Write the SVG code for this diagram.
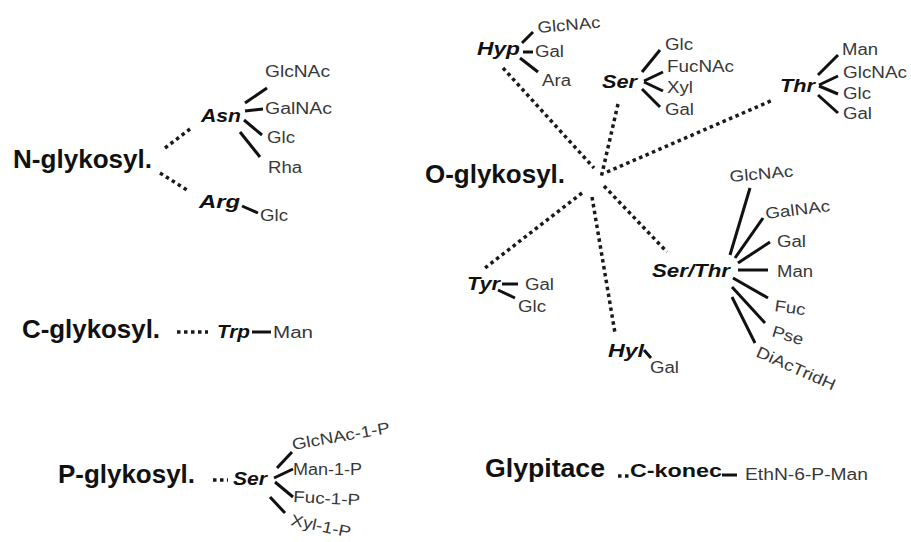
<svg xmlns="http://www.w3.org/2000/svg" width="911" height="542" viewBox="0 0 911 542">
<style>
.big{font-family:"Liberation Sans",Arial,sans-serif;font-weight:bold;font-size:25px;fill:#111}
.aa{font-family:"Liberation Sans",Arial,sans-serif;font-weight:bold;font-style:italic;font-size:18px;fill:#111}
.mid{font-family:"Liberation Sans",Arial,sans-serif;font-weight:bold;font-size:18px;fill:#111}
.sub{font-family:"Liberation Sans",Arial,sans-serif;font-size:16px;fill:#383838}
.dot{stroke:#1a1a1a;stroke-width:3.5;stroke-dasharray:3.5 3.5;fill:none}
.bond{stroke:#111;stroke-width:3;fill:none}
</style>
<rect width="911" height="542" fill="#fff"/>
<g id="connectors">
  <line class="dot" x1="165" y1="148" x2="190" y2="129"/>
  <line class="dot" x1="160" y1="173" x2="187" y2="190"/>
  <line class="dot" x1="503" y1="68" x2="594" y2="168"/>
  <line class="dot" x1="618" y1="104" x2="601" y2="178"/>
  <line class="dot" x1="607" y1="172" x2="773" y2="100"/>
  <line class="dot" x1="604" y1="186" x2="667" y2="252"/>
  <line class="dot" x1="582" y1="193" x2="485" y2="268"/>
  <line class="dot" x1="592" y1="197" x2="615" y2="333"/>
  <line class="dot" x1="177" y1="332" x2="208" y2="332"/>
  <line class="dot" x1="213" y1="480" x2="228" y2="480"/>
  <line class="dot" x1="618" y1="476" x2="629" y2="476"/>
</g>
<g id="n-glyk"><text class="big" x="13" y="168" textLength="139" lengthAdjust="spacingAndGlyphs">N-glykosyl.</text></g>
<g id="asn">
  <text class="aa" x="201" y="122" textLength="40" lengthAdjust="spacingAndGlyphs">Asn</text>
  <line class="bond" x1="245" y1="103" x2="267" y2="88"/>
  <line class="bond" x1="245" y1="111" x2="263" y2="109"/>
  <line class="bond" x1="244" y1="120" x2="262" y2="135"/>
  <line class="bond" x1="240" y1="132" x2="260" y2="157"/>
  <text class="sub" x="265" y="77" textLength="65" lengthAdjust="spacingAndGlyphs">GlcNAc</text>
  <text class="sub" x="265" y="114" textLength="67" lengthAdjust="spacingAndGlyphs">GalNAc</text>
  <text class="sub" x="267" y="143" textLength="28" lengthAdjust="spacingAndGlyphs">Glc</text>
  <text class="sub" x="268" y="173" textLength="34" lengthAdjust="spacingAndGlyphs">Rha</text>
</g>
<g id="arg">
  <text class="aa" x="199" y="208" textLength="41" lengthAdjust="spacingAndGlyphs">Arg</text>
  <line class="bond" x1="242" y1="206" x2="258" y2="213"/>
  <text class="sub" x="260" y="221" textLength="28" lengthAdjust="spacingAndGlyphs">Glc</text>
</g>
<g id="o-glyk"><text class="big" x="425" y="183" textLength="140" lengthAdjust="spacingAndGlyphs">O-glykosyl.</text></g>
<g id="hyp">
  <text class="aa" x="477" y="55" textLength="43" lengthAdjust="spacingAndGlyphs">Hyp</text>
  <line class="bond" x1="522" y1="43" x2="533" y2="32"/>
  <line class="bond" x1="523" y1="52" x2="533" y2="52"/>
  <line class="bond" x1="520" y1="58" x2="538" y2="72"/>
  <text class="sub" x="538" y="33" textLength="63" lengthAdjust="spacingAndGlyphs" transform="rotate(-5 538 33)">GlcNAc</text>
  <text class="sub" x="535" y="57" textLength="29" lengthAdjust="spacingAndGlyphs">Gal</text>
  <text class="sub" x="542" y="86" textLength="29" lengthAdjust="spacingAndGlyphs">Ara</text>
</g>
<g id="ser-o">
  <text class="aa" x="602" y="88" textLength="35" lengthAdjust="spacingAndGlyphs">Ser</text>
  <line class="bond" x1="642" y1="72" x2="660" y2="50"/>
  <line class="bond" x1="644" y1="81" x2="663" y2="72"/>
  <line class="bond" x1="644" y1="82" x2="663" y2="91"/>
  <line class="bond" x1="642" y1="89" x2="660" y2="107"/>
  <text class="sub" x="665" y="50" textLength="28" lengthAdjust="spacingAndGlyphs">Glc</text>
  <text class="sub" x="667" y="72" textLength="67" lengthAdjust="spacingAndGlyphs">FucNAc</text>
  <text class="sub" x="667" y="93" textLength="26" lengthAdjust="spacingAndGlyphs">Xyl</text>
  <text class="sub" x="665" y="115" textLength="29" lengthAdjust="spacingAndGlyphs">Gal</text>
</g>
<g id="thr">
  <text class="aa" x="780" y="92" textLength="35" lengthAdjust="spacingAndGlyphs">Thr</text>
  <line class="bond" x1="818" y1="75" x2="838" y2="55"/>
  <line class="bond" x1="819" y1="85" x2="838" y2="76"/>
  <line class="bond" x1="819" y1="86" x2="838" y2="94"/>
  <line class="bond" x1="818" y1="95" x2="838" y2="113"/>
  <text class="sub" x="842" y="55" textLength="36" lengthAdjust="spacingAndGlyphs">Man</text>
  <text class="sub" x="843" y="78" textLength="64" lengthAdjust="spacingAndGlyphs">GlcNAc</text>
  <text class="sub" x="843" y="99" textLength="28" lengthAdjust="spacingAndGlyphs">Glc</text>
  <text class="sub" x="843" y="119" textLength="29" lengthAdjust="spacingAndGlyphs">Gal</text>
</g>
<g id="serthr">
  <text class="aa" x="652" y="277" textLength="78" lengthAdjust="spacingAndGlyphs">Ser/Thr</text>
  <line class="bond" x1="730" y1="255" x2="750" y2="188"/>
  <line class="bond" x1="735" y1="258" x2="763" y2="218"/>
  <line class="bond" x1="738" y1="263" x2="770" y2="242"/>
  <line class="bond" x1="738" y1="270" x2="768" y2="270"/>
  <line class="bond" x1="733" y1="278" x2="768" y2="298"/>
  <line class="bond" x1="732" y1="287" x2="765" y2="323"/>
  <line class="bond" x1="732" y1="297" x2="755" y2="343"/>
  <text class="sub" x="730" y="182" textLength="64" lengthAdjust="spacingAndGlyphs" transform="rotate(-5 730 182)">GlcNAc</text>
  <text class="sub" x="766" y="219" textLength="65" lengthAdjust="spacingAndGlyphs" transform="rotate(-7 766 219)">GalNAc</text>
  <text class="sub" x="777" y="247" textLength="29" lengthAdjust="spacingAndGlyphs">Gal</text>
  <text class="sub" x="777" y="277" textLength="36" lengthAdjust="spacingAndGlyphs">Man</text>
  <text class="sub" x="774" y="311" textLength="31" lengthAdjust="spacingAndGlyphs" transform="rotate(8 774 311)">Fuc</text>
  <text class="sub" x="771" y="336" textLength="32" lengthAdjust="spacingAndGlyphs" transform="rotate(17 771 336)">Pse</text>
  <text class="sub" x="755" y="356" textLength="85" lengthAdjust="spacingAndGlyphs" transform="rotate(24 755 356)">DiAcTridH</text>
</g>
<g id="tyr">
  <text class="aa" x="467" y="290" textLength="33" lengthAdjust="spacingAndGlyphs">Tyr</text>
  <line class="bond" x1="502" y1="284" x2="518" y2="284"/>
  <line class="bond" x1="498" y1="290" x2="515" y2="298"/>
  <text class="sub" x="525" y="290" textLength="29" lengthAdjust="spacingAndGlyphs">Gal</text>
  <text class="sub" x="518" y="312" textLength="28" lengthAdjust="spacingAndGlyphs">Glc</text>
</g>
<g id="hyl">
  <text class="aa" x="608" y="357" textLength="36" lengthAdjust="spacingAndGlyphs">Hyl</text>
  <line class="bond" x1="644" y1="350" x2="651" y2="358"/>
  <text class="sub" x="650" y="373" textLength="29" lengthAdjust="spacingAndGlyphs">Gal</text>
</g>
<g id="c-glyk"><text class="big" x="22" y="338" textLength="138" lengthAdjust="spacingAndGlyphs">C-glykosyl.</text></g>
<g id="trp">
  <text class="aa" x="217" y="338" textLength="33" lengthAdjust="spacingAndGlyphs">Trp</text>
  <line class="bond" x1="252" y1="332" x2="271" y2="332"/>
  <text class="sub" x="273" y="338" textLength="40" lengthAdjust="spacingAndGlyphs">Man</text>
</g>
<g id="p-glyk"><text class="big" x="58" y="483" textLength="137" lengthAdjust="spacingAndGlyphs">P-glykosyl.</text></g>
<g id="ser-p">
  <text class="aa" x="233" y="485" textLength="34" lengthAdjust="spacingAndGlyphs">Ser</text>
  <line class="bond" x1="277" y1="468" x2="292" y2="452"/>
  <line class="bond" x1="274" y1="478" x2="293" y2="469"/>
  <line class="bond" x1="275" y1="482" x2="293" y2="497"/>
  <line class="bond" x1="270" y1="497" x2="285" y2="513"/>
  <text class="sub" x="293" y="450" textLength="99" lengthAdjust="spacingAndGlyphs" transform="rotate(-10 293 450)">GlcNAc-1-P</text>
  <text class="sub" x="293" y="475" textLength="69" lengthAdjust="spacingAndGlyphs">Man-1-P</text>
  <text class="sub" x="293" y="502" textLength="67" lengthAdjust="spacingAndGlyphs" transform="rotate(3 293 502)">Fuc-1-P</text>
  <text class="sub" x="290" y="525" textLength="61" lengthAdjust="spacingAndGlyphs" transform="rotate(12 290 525)">Xyl-1-P</text>
</g>
<g id="glypitace"><text class="big" x="485" y="477" textLength="120" lengthAdjust="spacingAndGlyphs">Glypitace</text></g>
<g id="c-konec">
  <text class="mid" x="630" y="477" textLength="92" lengthAdjust="spacingAndGlyphs">C-konec</text>
  <line class="bond" x1="722" y1="475" x2="737" y2="475"/>
  <text class="sub" x="745" y="480" textLength="123" lengthAdjust="spacingAndGlyphs">EthN-6-P-Man</text>
</g>
</svg>
